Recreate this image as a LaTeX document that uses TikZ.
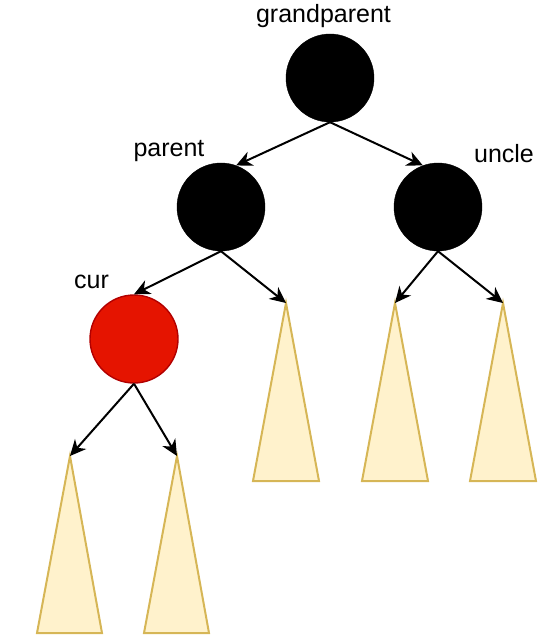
\documentclass[tikz,border=0pt]{standalone}
\usepackage{fontspec}
\setmainfont{Liberation Sans}
\usetikzlibrary{arrows.meta}
\definecolor{redfill}{HTML}{E51400}
\definecolor{redline}{HTML}{B20000}
\definecolor{treefill}{HTML}{FFF2CC}
\definecolor{treeline}{HTML}{D6B656}
\begin{document}
\begin{tikzpicture}[x=1pt,y=-1pt,
  every node/.style={inner sep=0pt},
  blacknode/.style={draw,circle,fill=black,minimum size=88pt},
  rednode/.style={draw=redline,circle,fill=redfill,minimum size=88pt,line width=1.4pt},
  lbl/.style={anchor=base,font=\fontsize{25}{30}\selectfont},
  edge/.style={line width=2pt,-{Stealth[length=16pt,width=15pt,inset=5pt]}},
  subtree/.style={draw=treeline,fill=treefill,line width=2pt,line join=miter}
]
    \useasboundingbox (0,0) rectangle (558,639);
    \node[blacknode] (gp) at (330,78) {};
    \node[blacknode] (par) at (221,207) {};
    \node[blacknode] (unc) at (438,207) {};
    \node[rednode] (cur) at (134,339) {};
    \node[lbl] (gpl) at (323.5,23) {grandparent};
    \node[lbl] (parl) at (169,157) {parent};
    \node[lbl] (uncl) at (504,163) {uncle};
    \node[lbl] (curl) at (91.5,288) {cur};
    \coordinate (t1) at (286,303);
    \coordinate (t2) at (395,303);
    \coordinate (t3) at (503,303);
    \coordinate (t4) at (70,456);
    \coordinate (t5) at (177,456);
    \draw[subtree] (t1) -- ++(-33,178) -- ++(66,0) -- cycle;
    \draw[subtree] (t2) -- ++(-33,178) -- ++(66,0) -- cycle;
    \draw[subtree] (t3) -- ++(-33,178) -- ++(66,0) -- cycle;
    \draw[subtree] (t4) -- ++(-33,177) -- ++(65,0) -- cycle;
    \draw[subtree] (t5) -- ++(-33,177) -- ++(65,0) -- cycle;
    \draw[edge] (gp.south) -- (par.70);
    \draw[edge] (gp.south) -- (unc.110);
    \draw[edge] (par.south) -- (cur.north);
    \draw[edge] (par.south) -- (t1);
    \draw[edge] (unc.south) -- (t2);
    \draw[edge] (unc.south) -- (t3);
    \draw[edge] (cur.south) -- (t4);
    \draw[edge] (cur.south) -- (t5);
\end{tikzpicture}
\end{document}
